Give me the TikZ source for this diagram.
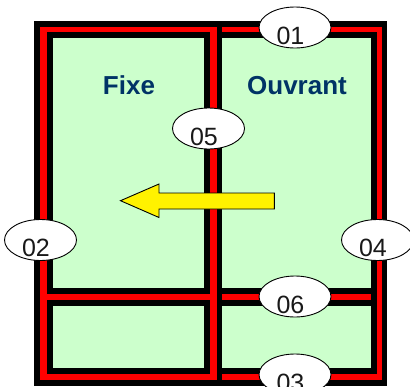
\documentclass[tikz,border=0pt]{standalone}
\usepackage{fontspec}
\setmainfont{Liberation Sans}
\usetikzlibrary{shapes.geometric,calc}
\definecolor{paneg}{HTML}{CCFFCC}
\definecolor{titleb}{HTML}{003366}
\tikzset{
  frameblack/.style={fill=black},
  framered/.style={fill=red},
  pane/.style={fill=paneg},
  bubble/.style={ellipse,draw=black,line width=0.9pt,fill=white,minimum width=72pt,minimum height=41pt,inner sep=0pt},
  num/.style={anchor=base,inner sep=0pt,text=black!90,font=\fontsize{25}{25}\selectfont},
  title/.style={anchor=base,inner sep=0pt,text=titleb,font=\fontsize{26}{26}\selectfont\bfseries},
  slidearrow/.style={draw=black,line width=0.9pt,fill=yellow,line join=miter}
}
\begin{document}
\begin{tikzpicture}[x=1pt,y=-1pt]
\useasboundingbox (0,0) rectangle (410,386);
\clip (0,0) rectangle (410,386);
% black frame
\fill[frameblack] (34,21) rectangle (387,386);
% red left sash
\fill[framered] (40,27) rectangle (216.5,32);
\fill[framered] (40,27) rectangle (47,380);
\fill[framered] (209.5,27) rectangle (216.5,380);
\fill[framered] (40,294) rectangle (216.5,300);
\fill[framered] (40,374) rectangle (216.5,380);
% red right sash
\fill[framered] (222,27) rectangle (382,32);
\fill[framered] (376.5,27) rectangle (382,380);
\fill[framered] (222,294) rectangle (371,300);
\fill[framered] (222,374) rectangle (382,380);
% panes
\fill[pane] (53,38) rectangle (203.5,288);
\fill[pane] (53,306) rectangle (203.5,368);
\fill[pane] (222,38) rectangle (371,288);
\fill[pane] (222,306) rectangle (371,368);
% titles
\node[title] (fixe) at (129,94.5) {Fixe};
\node[title] (ouvrant) at (297,94.5) {Ouvrant};
% arrow
\draw[slidearrow] (120.5,200.7) -- (159,184) -- (159,193) -- (274.3,193) -- (274.3,209) -- (159,209) -- (159,217.5) -- cycle;
% bubbles
\node[bubble] (b01) at (295,27.5) {};
\node[bubble] (b02) at (40.5,240) {};
\node[bubble] (b03) at (295,374.5) {};
\node[bubble] (b04) at (377.5,240) {};
\node[bubble] (b05) at (208.5,128.5) {};
\node[bubble] (b06) at (295,296.5) {};
\foreach \n in {01,02,03,04,05,06}{
  \node[num] (t\n) at ($(b\n)+(-4.5,16.5)$) {\n};
}
\end{tikzpicture}
\end{document}
